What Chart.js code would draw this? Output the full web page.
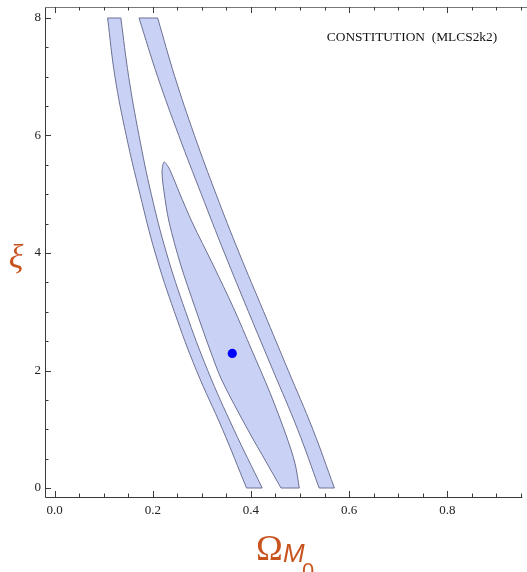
<!DOCTYPE html>
<html>
<head>
<meta charset="utf-8">
<script src="https://cdn.jsdelivr.net/npm/chart.js@4.4.1/dist/chart.umd.min.js"></script>
<style>
  html, body { margin: 0; padding: 0; background: #fff; }
</style>
</head>
<body>
<canvas id="contour" width="527" height="572"></canvas>
<script>
// 2-sigma band edges, read at these xi levels (top to bottom)
const bandY = [8, 7, 6, 5, 4, 3, 2, 1, 0];
const leftBandOuterX  = [0.108, 0.123, 0.146, 0.174, 0.205, 0.244, 0.289, 0.342, 0.391];
const leftBandInnerX  = [0.135, 0.151, 0.172, 0.197, 0.228, 0.267, 0.312, 0.365, 0.423];
const rightBandInnerX = [0.172, 0.210, 0.253, 0.299, 0.346, 0.395, 0.445, 0.495, 0.539];
const rightBandOuterX = [0.210, 0.245, 0.285, 0.329, 0.376, 0.426, 0.476, 0.526, 0.570];

// 1-sigma region: left edge from the bottom up, right edge from the tip down
const coreLeftY  = [0, 0.426, 0.987, 1.838, 2.349, 3.07, 3.796, 4.528, 5.039, 5.379];
const coreLeftX  = [0.4613, 0.4322, 0.3940, 0.3405, 0.3167, 0.2862, 0.2570, 0.2332, 0.2230, 0.2189];
const coreRightY = [5.549, 5.464, 5.379, 5.209, 5.038, 4.528, 3.796, 3.07, 2.349, 1.62, 0.902, 0.42, 0];
const coreRightX = [0.2230, 0.2318, 0.2367, 0.2454, 0.2536, 0.2800, 0.3230, 0.3642, 0.4016, 0.4389, 0.4715, 0.4898, 0.4985];

const bestFit = { x: 0.362, y: 2.29 };

const xMajorTicks = [0, 0.2, 0.4, 0.6, 0.8];
const xTickLabels = ['0.0', '0.2', '0.4', '0.6', '0.8'];
const yMajorTicks = [0, 2, 4, 6, 8];
const yTickLabels = ['0', '2', '4', '6', '8'];

const plotTitle = 'CONSTITUTION  (MLCS2k2)';

const fillColor = '#c9d1f5';
const edgeColor = '#6c7092';
const labelColor = '#c8531f';

// closed strip from two edges; corner points are doubled so the
// cut edges at the plot range stay straight under the spline
function strip(ys, leftXs, rightXs) {
    const pts = [];
    const last = ys.length - 1;
    ys.forEach((y, i) => pts.push({ x: leftXs[i], y: y }));
    pts.push({ x: leftXs[last], y: ys[last] });
    for (let i = last; i >= 0; i--) {
        pts.push({ x: rightXs[i], y: ys[i] });
        if (i === last || i === 0) pts.push({ x: rightXs[i], y: ys[i] });
    }
    pts.push(pts[0]);
    return pts;
}

function core() {
    const pts = [];
    coreLeftY.forEach((y, i) => pts.push({ x: coreLeftX[i], y: y }));
    coreRightY.forEach((y, i) => pts.push({ x: coreRightX[i], y: y }));
    pts.push(pts[pts.length - 1]);
    pts.push(pts[0]);
    return pts;
}

function region(data, tension) {
    return {
        data: data,
        showLine: true,
        fill: 'shape',
        backgroundColor: fillColor,
        borderColor: edgeColor,
        borderWidth: 1,
        tension: tension,
        pointRadius: 0
    };
}

// frame with inward ticks, tick labels and the axis titles
const frameTicks = {
    id: 'frameTicks',
    afterDatasetsDraw(chart) {
        const { ctx, chartArea: a, scales: { x, y } } = chart;
        ctx.save();

        ctx.lineWidth = 1;
        ctx.strokeStyle = '#3a3a3a';
        ctx.beginPath();
        ctx.moveTo(a.left + 0.5, a.top);
        ctx.lineTo(a.left + 0.5, a.bottom + 0.5);
        ctx.lineTo(a.right, a.bottom + 0.5);
        ctx.stroke();
        ctx.strokeStyle = '#777';
        ctx.beginPath();
        ctx.moveTo(a.left, a.top + 0.5);
        ctx.lineTo(527, a.top + 0.5);
        ctx.stroke();

        ctx.strokeStyle = '#3a3a3a';
        ctx.beginPath();
        for (let k = 0; k <= 19; k++) {
            const px = Math.round(x.getPixelForValue(k * 0.05)) + 0.5;
            const len = k % 4 === 0 ? 6 : 3.5;
            ctx.moveTo(px, a.bottom);
            ctx.lineTo(px, a.bottom - len);
            ctx.moveTo(px, a.top);
            ctx.lineTo(px, a.top + len);
        }
        for (let k = 0; k <= 16; k++) {
            const py = Math.round(y.getPixelForValue(k * 0.5)) + 0.5;
            const len = k % 4 === 0 ? 6 : 3.5;
            ctx.moveTo(a.left, py);
            ctx.lineTo(a.left + len, py);
        }
        ctx.stroke();

        ctx.fillStyle = '#222';
        ctx.font = '13px "Liberation Serif"';
        ctx.textAlign = 'center';
        ctx.textBaseline = 'middle';
        xMajorTicks.forEach((v, i) => {
            ctx.fillText(xTickLabels[i], x.getPixelForValue(v), a.bottom + 14);
        });
        ctx.textAlign = 'right';
        yMajorTicks.forEach((v, i) => {
            ctx.fillText(yTickLabels[i], a.left - 4, y.getPixelForValue(v));
        });

        ctx.textAlign = 'center';
        ctx.fillStyle = '#111';
        ctx.font = '13.4px "Liberation Serif"';
        ctx.fillText(plotTitle, 412, 37);

        // axis titles
        ctx.fillStyle = labelColor;
        ctx.textAlign = 'left';
        ctx.textBaseline = 'alphabetic';
        ctx.font = '36px "Liberation Serif"';
        ctx.fillText('\u03A9', 256, 560);
        ctx.font = 'italic 26px "Liberation Sans"';
        ctx.fillText('M', 283, 562);
        ctx.font = '22px "Liberation Sans"';
        ctx.fillText('0', 302, 578);

        ctx.font = 'italic 34px "Liberation Serif"';
        ctx.textAlign = 'center';
        ctx.fillText('\u03BE', 16, 268);

        ctx.restore();
    }
};

const chart = new Chart(document.getElementById('contour'), {
    type: 'scatter',
    data: {
        datasets: [
            {
                data: [bestFit],
                pointRadius: 4.6,
                pointBackgroundColor: '#0000ff',
                pointBorderWidth: 0,
                showLine: false
            },
            region(core(), 0.3),
            region(strip(bandY, rightBandInnerX, rightBandOuterX), 0.4),
            region(strip(bandY, leftBandOuterX, leftBandInnerX), 0.4)
        ]
    },
    options: {
        responsive: false,
        animation: false,
        layout: { padding: { left: 45, top: 7, right: 4, bottom: 75 } },
        scales: {
            x: { type: 'linear', min: -0.0195, max: 0.953, display: false },
            y: { type: 'linear', min: -0.153, max: 8.187, display: false }
        },
        plugins: {
            legend: { display: false },
            tooltip: { enabled: false }
        }
    },
    plugins: [frameTicks]
});
</script>
</body>
</html>
